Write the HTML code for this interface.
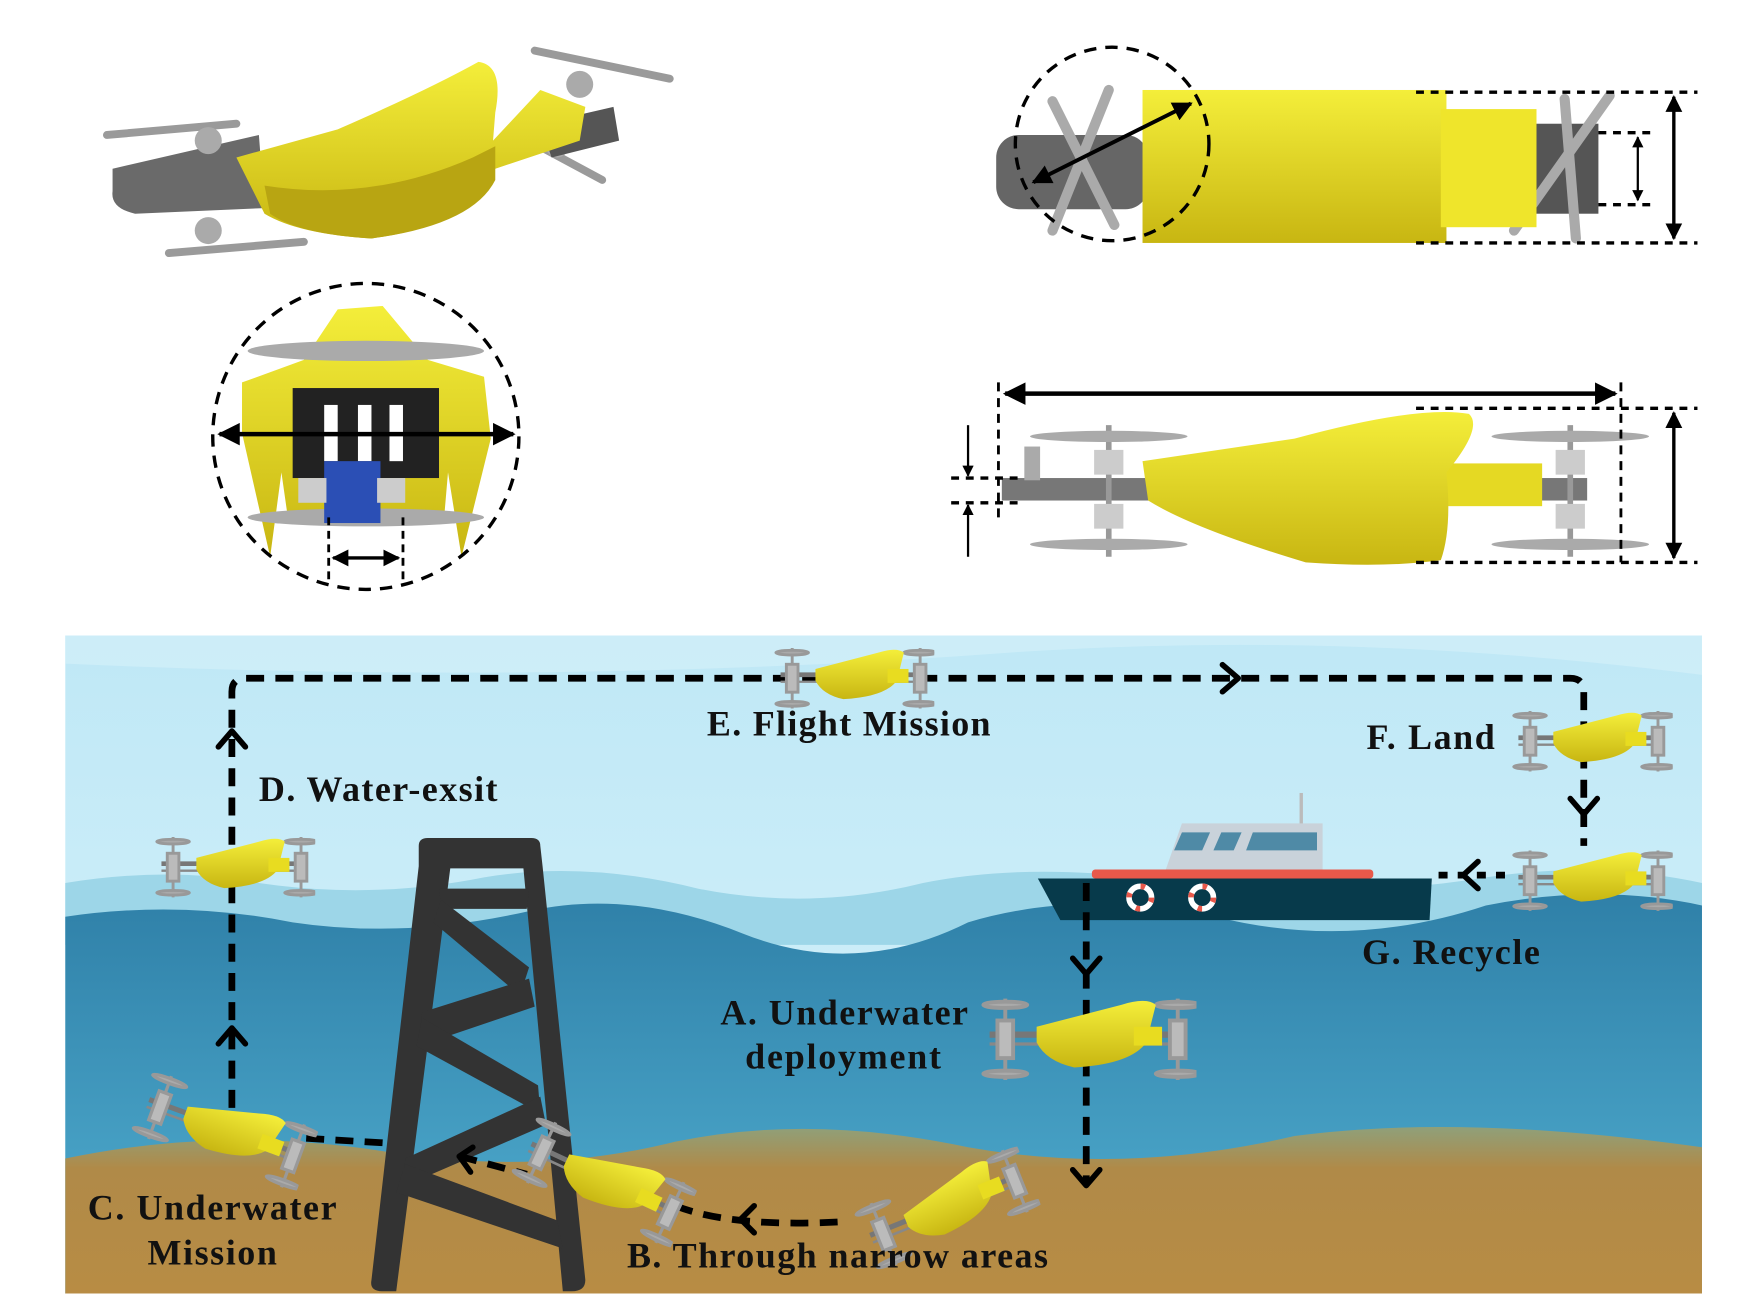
<!DOCTYPE html>
<html><head><meta charset="utf-8"><style>
html,body{margin:0;padding:0;background:#fff;}
svg{display:block;}
text{font-family:"Liberation Serif",serif;font-weight:bold;fill:#111;}
</style></head><body>
<svg width="1756" height="1316" viewBox="0 0 1560 1170" preserveAspectRatio="none" xmlns="http://www.w3.org/2000/svg">
<defs>
<linearGradient id="sky" x1="0" y1="0" x2="0" y2="1"><stop offset="0" stop-color="#bfe8f6"/><stop offset="1" stop-color="#d9f3fb"/></linearGradient>
<linearGradient id="sea" x1="0" y1="0" x2="0" y2="1"><stop offset="0" stop-color="#2f80a8"/><stop offset="1" stop-color="#52b0d2"/></linearGradient>
<linearGradient id="sand" x1="0" y1="0" x2="0" y2="1"><stop offset="0" stop-color="#8fa07a"/><stop offset="0.25" stop-color="#b08a48"/><stop offset="1" stop-color="#b88c44"/></linearGradient>
<linearGradient id="yel" x1="0" y1="0" x2="0" y2="1"><stop offset="0" stop-color="#f4ee3a"/><stop offset="1" stop-color="#c8b612"/></linearGradient>
<symbol id="drone" viewBox="0 0 140 60">
 <line x1="8" y1="27" x2="134" y2="27" stroke="#777" stroke-width="4"/>
 <line x1="8" y1="33" x2="134" y2="33" stroke="#888" stroke-width="2"/>
 <g stroke="#999" stroke-width="2.5" fill="#aaa">
  <line x1="18" y1="4" x2="18" y2="56"/><line x1="128" y1="4" x2="128" y2="56"/>
  <ellipse cx="18" cy="8" rx="14" ry="2"/><ellipse cx="18" cy="52" rx="14" ry="2"/>
  <ellipse cx="128" cy="8" rx="14" ry="2"/><ellipse cx="128" cy="52" rx="14" ry="2"/>
  <rect x="13" y="18" width="10" height="24" fill="#bbb"/><rect x="123" y="18" width="10" height="24" fill="#bbb"/>
 </g>
 <path d="M38,22 L92,8 Q108,3 114,8 L108,32 Q98,46 62,48 Q44,44 38,32 Z" fill="url(#yel)"/>
 <rect x="100" y="22" width="18" height="12" fill="#e8dc20"/>
</symbol>
<marker id="ah" viewBox="0 0 10 10" refX="9" refY="5" markerWidth="5" markerHeight="5" orient="auto-start-reverse"><path d="M0,0 L10,5 L0,10 Z" fill="#000"/></marker>
</defs>

<!-- top-left iso view -->
<g>
 <path d="M100,150 L230,120 L235,185 L120,190 Q98,185 100,170 Z" fill="#6a6a6a"/>
 <g stroke="#9a9a9a" stroke-width="7" stroke-linecap="round">
  <line x1="95" y1="120" x2="210" y2="110"/><line x1="150" y1="225" x2="270" y2="215"/>
  <line x1="475" y1="45" x2="595" y2="70"/><line x1="470" y1="125" x2="535" y2="160"/>
 </g>
 <circle cx="185" cy="125" r="12" fill="#aaa"/><circle cx="185" cy="205" r="12" fill="#aaa"/>
 <circle cx="515" cy="75" r="12" fill="#aaa"/><circle cx="495" cy="130" r="10" fill="#aaa"/>
 <path d="M480,110 L545,95 L550,125 L490,140 Z" fill="#555"/>
 <path d="M210,140 L300,115 Q380,80 425,55 Q448,58 440,100 L438,125 L480,80 L520,95 L515,125 L440,150 Q420,200 330,212 Q265,208 235,190 L220,160 Z" fill="url(#yel)"/>
 <path d="M420,140 L440,130 L440,160 Q420,200 330,212 Q265,208 240,190 L235,165 Q330,180 420,140Z" fill="#b8a512"/>
</g>

<!-- top-right top view -->
<g>
 <rect x="885" y="120" width="135" height="66" rx="20" fill="#666"/>
 <rect x="1360" y="110" width="60" height="80" fill="#555"/>
 <g stroke="#aaa" stroke-width="9" stroke-linecap="round">
  <line x1="935" y1="90" x2="990" y2="200"/><line x1="985" y1="80" x2="935" y2="205"/>
  <line x1="1390" y1="88" x2="1400" y2="212"/><line x1="1430" y1="85" x2="1345" y2="205"/>
 </g>
 <rect x="1015" y="80" width="270" height="136" fill="url(#yel)"/>
 <rect x="1280" y="97" width="85" height="105" fill="#efe52b"/>
 <circle cx="988" cy="128" r="86" fill="none" stroke="#000" stroke-width="3" stroke-dasharray="11,8"/>
 <line x1="918" y1="162" x2="1058" y2="92" stroke="#000" stroke-width="3.5" marker-start="url(#ah)" marker-end="url(#ah)"/>
 <g stroke="#000" stroke-width="3" stroke-dasharray="7,6">
  <line x1="1258" y1="82" x2="1508" y2="82"/><line x1="1258" y1="216" x2="1508" y2="216"/>
  <line x1="1420" y1="118" x2="1470" y2="118"/><line x1="1420" y1="182" x2="1470" y2="182"/>
 </g>
 <line x1="1487" y1="86" x2="1487" y2="212" stroke="#000" stroke-width="3" marker-start="url(#ah)" marker-end="url(#ah)"/>
 <line x1="1455" y1="122" x2="1455" y2="178" stroke="#000" stroke-width="2" marker-start="url(#ah)" marker-end="url(#ah)"/>
</g>

<!-- bottom-left front view -->
<g>
 <path d="M300,275 L340,272 L380,320 L430,335 L436,390 L410,495 L398,420 L395,455 L255,455 L250,420 L240,495 L215,385 L215,340 L270,320 Z" fill="url(#yel)"/>
 <ellipse cx="325" cy="312" rx="105" ry="9" fill="#aaa"/>
 <ellipse cx="325" cy="460" rx="105" ry="8" fill="#aaa"/>
 <rect x="260" y="345" width="130" height="80" fill="#222"/>
 <rect x="288" y="360" width="12" height="50" fill="#fff"/><rect x="318" y="360" width="12" height="50" fill="#fff"/><rect x="346" y="360" width="12" height="50" fill="#fff"/>
 <rect x="288" y="410" width="50" height="55" fill="#2b4fb5"/>
 <rect x="265" y="425" width="25" height="22" fill="#ccc"/><rect x="335" y="425" width="25" height="22" fill="#ccc"/>
 <circle cx="325" cy="388" r="136" fill="none" stroke="#000" stroke-width="3" stroke-dasharray="11,8"/>
 <line x1="195" y1="386" x2="456" y2="386" stroke="#000" stroke-width="4" marker-start="url(#ah)" marker-end="url(#ah)"/>
 <g stroke="#000" stroke-width="2.5" stroke-dasharray="7,5"><line x1="292" y1="460" x2="292" y2="515"/><line x1="358" y1="460" x2="358" y2="515"/></g>
 <line x1="296" y1="496" x2="354" y2="496" stroke="#000" stroke-width="3" marker-start="url(#ah)" marker-end="url(#ah)"/>
</g>

<!-- bottom-right side view -->
<g>
 <rect x="890" y="425" width="520" height="20" fill="#777"/>
 <g stroke="#999" stroke-width="5">
  <line x1="985" y1="378" x2="985" y2="495"/><line x1="1395" y1="378" x2="1395" y2="495"/>
 </g>
 <g fill="#aaa"><ellipse cx="985" cy="388" rx="70" ry="5"/><ellipse cx="985" cy="484" rx="70" ry="5"/><ellipse cx="1395" cy="388" rx="70" ry="5"/><ellipse cx="1395" cy="484" rx="70" ry="5"/>
 <rect x="972" y="400" width="26" height="22" fill="#ccc"/><rect x="972" y="448" width="26" height="22" fill="#ccc"/><rect x="1382" y="400" width="26" height="22" fill="#ccc"/><rect x="1382" y="448" width="26" height="22" fill="#ccc"/>
 <rect x="910" y="397" width="14" height="30"/></g>
 <rect x="1285" y="412" width="85" height="38" fill="#e5d923"/>
 <path d="M1015,410 L1150,390 Q1260,360 1305,368 Q1318,380 1285,420 Q1290,470 1280,498 Q1230,505 1160,500 Q1060,470 1020,445 Z" fill="url(#yel)"/>
 <line x1="893" y1="350" x2="1435" y2="350" stroke="#000" stroke-width="4" marker-start="url(#ah)" marker-end="url(#ah)"/>
 <g stroke="#000" stroke-width="2.5" stroke-dasharray="8,6">
  <line x1="887" y1="340" x2="887" y2="460"/><line x1="1440" y1="340" x2="1440" y2="500"/>
 </g>
 <g stroke="#000" stroke-width="3" stroke-dasharray="7,6">
  <line x1="1258" y1="363" x2="1508" y2="363"/><line x1="1258" y1="500" x2="1508" y2="500"/>
  <line x1="845" y1="425" x2="905" y2="425"/><line x1="845" y1="447" x2="905" y2="447"/>
 </g>
 <line x1="1487" y1="367" x2="1487" y2="496" stroke="#000" stroke-width="3" marker-start="url(#ah)" marker-end="url(#ah)"/>
 <line x1="860" y1="378" x2="860" y2="423" stroke="#000" stroke-width="2" marker-end="url(#ah)"/>
 <line x1="860" y1="495" x2="860" y2="449" stroke="#000" stroke-width="2" marker-end="url(#ah)"/>
</g>

<!-- ===== SCENE ===== -->
<rect x="58" y="565" width="1454" height="585" fill="url(#sky)"/>
<path d="M58,565 L1512,565 L1512,600 Q1200,560 900,580 Q500,610 58,590 Z" fill="#d3f0fa" opacity="0.7"/>
<path d="M58,785 Q150,770 230,785 Q330,800 430,780 Q520,765 620,790 Q720,810 820,785 Q920,765 1050,785 Q1200,800 1320,780 Q1420,765 1512,785 L1512,840 L58,840 Z" fill="#9dd6e8"/>
<path d="M58,815 Q160,800 260,820 Q360,835 470,810 Q560,790 660,830 Q760,870 860,820 Q960,790 1080,815 Q1200,845 1320,805 Q1420,785 1512,805 L1512,1150 L58,1150 Z" fill="url(#sea)"/>
<path d="M58,1030 Q200,1000 350,1025 Q480,1045 600,1015 Q720,990 860,1020 Q1000,1045 1150,1010 Q1300,990 1512,1020 L1512,1150 L58,1150 Z" fill="url(#sand)"/>

<!-- tower -->
<g fill="#333">
 <path d="M372,752 Q372,745 380,745 L472,745 Q480,745 480,752 L482,770 L520,1138 Q520,1148 508,1148 L500,1148 L465,772 L400,772 L352,1148 L340,1148 Q328,1148 330,1138 L372,770 Z"/>
 <path d="M390,790 L470,790 L468,808 L392,808 Z"/>
 <path d="M392,800 L470,860 L462,885 L385,820 Z"/>
 <path d="M470,870 L375,900 L372,930 L475,895 Z"/>
 <path d="M375,905 L478,965 L480,990 L370,930 Z"/>
 <path d="M480,975 L360,1030 L358,1055 L485,1000 Z"/>
 <path d="M360,1035 L495,1085 L500,1110 L352,1060 Z"/>
</g>

<!-- boat -->
<g>
 <line x1="1156" y1="705" x2="1156" y2="735" stroke="#bbb" stroke-width="3"/>
 <path d="M1050,732 L1175,732 L1175,775 L1035,775 Z" fill="#c9d2da"/>
 <path d="M1050,740 L1075,740 L1068,756 L1043,756 Z" fill="#4f8aa6"/>
 <path d="M1085,740 L1103,740 L1096,756 L1078,756 Z" fill="#4f8aa6"/>
 <path d="M1113,740 L1170,740 L1170,756 L1107,756 Z" fill="#4f8aa6"/>
 <rect x="970" y="773" width="250" height="8" rx="3" fill="#e8584a"/>
 <path d="M922,781 L1272,781 L1270,818 L942,818 Z" fill="#073a4b"/>
 <circle cx="1013" cy="798" r="10" fill="none" stroke="#fff" stroke-width="5"/>
 <circle cx="1013" cy="798" r="10" fill="none" stroke="#e8584a" stroke-width="5" stroke-dasharray="4,11.7"/>
 <circle cx="1068" cy="798" r="10" fill="none" stroke="#fff" stroke-width="5"/>
 <circle cx="1068" cy="798" r="10" fill="none" stroke="#e8584a" stroke-width="5" stroke-dasharray="4,11.7"/>
</g>

<!-- dashed path -->
<g fill="none" stroke="#000" stroke-width="6" stroke-dasharray="16,10">
 <path d="M206,985 L206,615 Q206,603 218,603 L1395,603 Q1407,603 1407,615 L1407,752"/>
 <line x1="965" y1="785" x2="965" y2="1052"/>
 <line x1="1278" y1="778" x2="1345" y2="778" stroke-dasharray="8,9"/>
 <path d="M272,1012 L340,1016"/>
 <path d="M408,1028 L468,1044"/>
 <path d="M600,1072 Q650,1092 752,1086"/>
</g>
<g fill="none" stroke="#000" stroke-width="5" stroke-linecap="round" stroke-linejoin="round">
 <polyline points="194,664 206,650 218,664"/>
 <polyline points="194,928 206,914 218,928"/>
 <polyline points="1086,591 1100,603 1086,615"/>
 <polyline points="1395,710 1407,724 1419,710"/>
 <polyline points="1313,766 1300,778 1313,790"/>
 <polyline points="953,852 965,866 977,852"/>
 <polyline points="953,1040 965,1054 977,1040"/>
 <polyline points="670,1072 658,1084 670,1096"/>
 <polyline points="420,1020 408,1028 418,1042"/>
</g>

<!-- drones in scene -->
<use href="#drone" x="685" y="572" width="145" height="62"/>
<use href="#drone" x="1340" y="628" width="146" height="62"/>
<use href="#drone" x="1340" y="752" width="146" height="62"/>
<use href="#drone" x="135" y="740" width="145" height="62"/>
<use href="#drone" x="868" y="882" width="195" height="84"/>
<use href="#drone" x="118" y="970" width="160" height="70" transform="rotate(20 198 1005)"/>
<use href="#drone" x="455" y="1015" width="160" height="70" transform="rotate(25 535 1050)"/>
<use href="#drone" x="760" y="1040" width="160" height="70" transform="rotate(-22 840 1075)"/>

<!-- labels -->
<g font-size="32">
 <text x="628" y="654" textLength="252">E. Flight Mission</text>
 <text x="1214" y="666" textLength="114">F. Land</text>
 <text x="230" y="712" textLength="212">D. Water-exsit</text>
 <text x="1210" y="857" textLength="158">G. Recycle</text>
 <text x="640" y="911" textLength="220">A. Underwater</text>
 <text x="662" y="950" textLength="174">deployment</text>
 <text x="78" y="1084" textLength="221">C. Underwater</text>
 <text x="131" y="1124" textLength="115">Mission</text>
 <text x="557" y="1127" textLength="374">B. Through narrow areas</text>
</g>
</svg>
</body></html>
